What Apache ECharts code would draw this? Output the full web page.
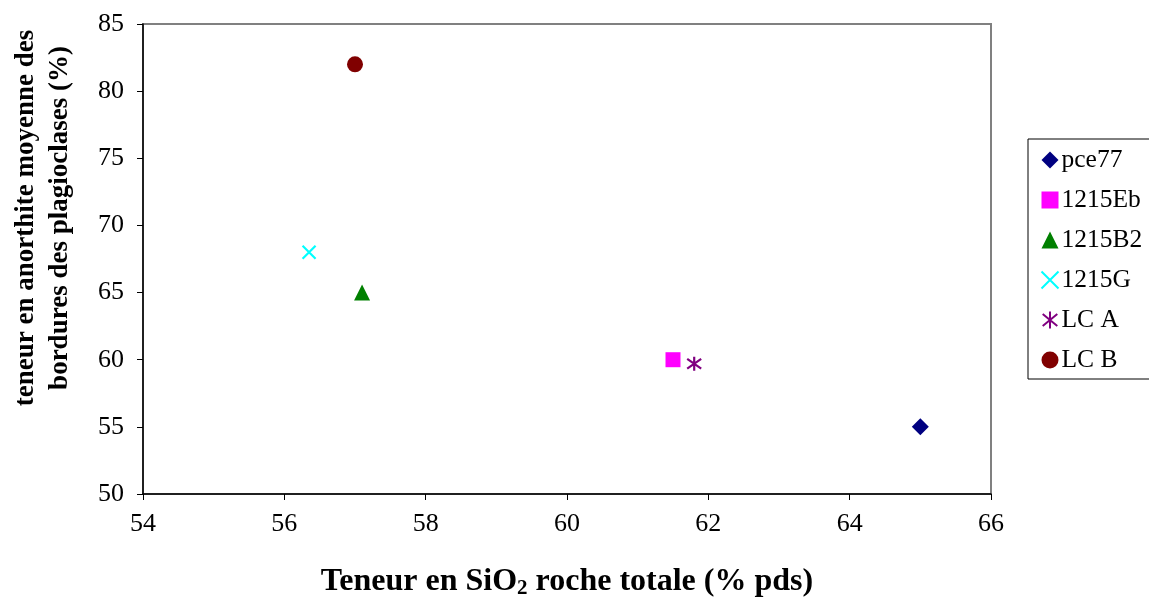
<!DOCTYPE html>
<html>
<head>
<meta charset="utf-8">
<script src="https://cdn.jsdelivr.net/npm/echarts@6/dist/echarts.min.js"></script>
<style>html,body{margin:0;padding:0;background:#fff;}#c{width:1149px;height:601px;}</style>
</head>
<body>
<div id="c"></div>
<script>
const seriesNames = ['pce77', '1215Eb', '1215B2', '1215G', 'LC A', 'LC B'];
const pce77 = [[65.0, 55.0]];
const s1215Eb = [[61.5, 60.0]];
const s1215B2 = [[57.1, 65.0]];
const s1215G = [[56.35, 68.0]];
const lcA = [[61.8, 59.7]];
const lcB = [[57.0, 82.0]];
const xTicks = {min: 54, max: 66, interval: 2};
const yTicks = {min: 50, max: 85, interval: 5};
const yTitleLines = ['teneur en anorthite moyenne des', 'bordures des plagioclases (%)'];

const font = 'Liberation Serif';
const chart = echarts.init(document.getElementById('c'), null, {renderer: 'canvas'});

function mk(name, data, symbol, size, color, stroke) {
  return {
    name: name, type: 'scatter', data: data, symbol: symbol, symbolSize: size,
    itemStyle: stroke ? {color: 'none', borderColor: color, borderWidth: 2.2, opacity: 1} : {color: color, opacity: 1},
    emphasis: {disabled: true}
  };
}
const xPath = 'path://M0,0L10,10M10,0L0,10';
const starPath = 'path://M5,0L5,10M0.7,1.5L9.3,8.5M9.3,1.5L0.7,8.5';

chart.setOption({
  animation: false,
  textStyle: {fontFamily: font, color: '#000'},
  grid: {left: 143, right: 158, top: 24, bottom: 107, outerBoundsMode: 'none', containLabel: false,
         show: true, borderColor: '#808080', borderWidth: 2, backgroundColor: 'transparent'},
  xAxis: {
    type: 'value', min: xTicks.min, max: xTicks.max, interval: xTicks.interval,
    axisLine: {lineStyle: {color: '#000', width: 1.5}},
    axisTick: {show: true, length: 6, lineStyle: {color: '#000'}},
    splitLine: {show: false},
    axisLabel: {fontSize: 26, fontFamily: font, color: '#000', margin: 17},
    name: '{b|Teneur en SiO}{s|2}{b| roche totale (% pds)}',
    nameLocation: 'middle', nameGap: 70,
    nameTextStyle: {
      rich: {
        b: {fontSize: 32, fontWeight: 'bold', fontFamily: font, color: '#000'},
        s: {fontSize: 21, fontWeight: 'bold', fontFamily: font, color: '#000', verticalAlign: 'bottom', padding: [14, 0, 0, 0]}
      }
    }
  },
  yAxis: {
    type: 'value', min: yTicks.min, max: yTicks.max, interval: yTicks.interval,
    axisLine: {show: true, lineStyle: {color: '#000', width: 1.5}},
    axisTick: {show: true, length: 6, lineStyle: {color: '#000'}},
    splitLine: {show: false},
    axisLabel: {fontSize: 26, fontFamily: font, color: '#000', margin: 19}
  },
  legend: {
    orient: 'vertical', left: 1028, top: 139,
    data: seriesNames,
    itemGap: 14, itemWidth: 17, itemHeight: 17,
    padding: [8, 40, 6, 11],
    borderColor: '#000', borderWidth: 1,
    textStyle: {fontSize: 25.5, fontFamily: font, color: '#000', padding: [0, 0, 0, -2]}
  },
  graphic: [
    {type: 'text', x: 26, y: 218, rotation: Math.PI / 2,
     style: {text: yTitleLines[0], font: 'bold 27px ' + font, fill: '#000', textAlign: 'center', textVerticalAlign: 'middle'}},
    {type: 'text', x: 60, y: 218, rotation: Math.PI / 2,
     style: {text: yTitleLines[1], font: 'bold 27px ' + font, fill: '#000', textAlign: 'center', textVerticalAlign: 'middle'}}
  ],
  series: [
    mk('pce77', pce77, 'diamond', 17, '#000080'),
    mk('1215Eb', s1215Eb, 'rect', 15, '#FF00FF'),
    mk('1215B2', s1215B2, 'triangle', 16, '#008000'),
    mk('1215G', s1215G, xPath, 13, '#00FFFF', true),
    mk('LC A', lcA, starPath, 14, '#800080', true),
    mk('LC B', lcB, 'circle', 16, '#800000')
  ]
});
</script>
</body>
</html>
